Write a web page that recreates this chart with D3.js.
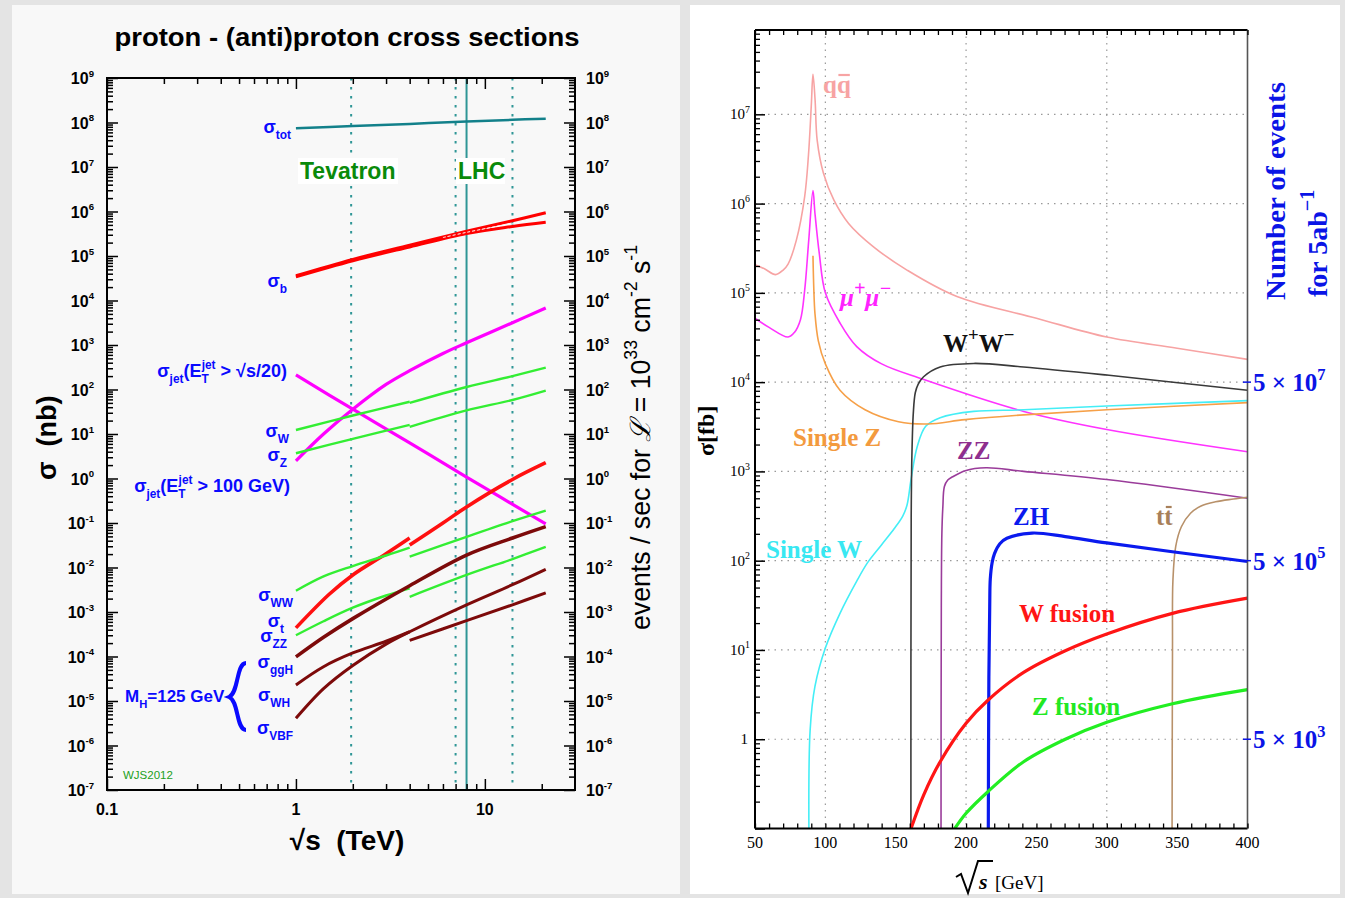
<!DOCTYPE html>
<html>
<head>
<meta charset="utf-8">
<script src="https://cdn.jsdelivr.net/npm/d3@7"></script>
<style>
body { margin: 0; background: #e4e4e4; }
svg { display: block; }
</style>
</head>
<body>
<svg id="chart" width="1345" height="898"></svg>
<script>
// ---------- left panel: sqrt(s) in TeV, sigma in nb ----------
var leftMajorX = [0.1, 1, 10];
var leftExps = d3.range(-7, 10);
var tevatron = 1.96, lhcRuns = [7, 14], lhcNow = 8;

var sigTot    = [[1,7.4e7],[2,8.3e7],[4,9.3e7],[8,1.05e8],[14,1.15e8],[21,1.22e8]];
var sigBHi    = [[1,3.6e4],[2,8.4e4],[4,1.75e5],[8,3.6e5],[14,6.2e5],[21,9.4e5]];
var sigBLo    = [[1,3.4e4],[2,7.8e4],[4,1.6e5],[8,3.2e5],[14,4.6e5],[21,5.7e5]];
var sigBMid   = [[6,2.6e5],[8,3.4e5],[14,5.4e5],[21,7.3e5]];
var jet100    = [[1,2.5],[1.4,10],[2,36],[3,130],[4,265],[6,645],[8,1120],[14,3160],[21,6800]];
var jetScaled = [[1,213],[2,36],[4,6.3],[8,1.08],[21,0.095]];
var wPpbar    = [[1,12.3],[2,26],[4,53]];
var wPp       = [[4,50],[8,114],[14,200],[21,309]];
var zPpbar    = [[1,3.7],[2,7.8],[4,16]];
var zPp       = [[4,14.5],[8,34],[14,58],[21,94]];
var topPpbar  = [[1,4.4e-4],[1.5,2.5e-3],[2,6.8e-3],[3,0.0204],[4,0.046]];
var topPp     = [[4,0.032],[6,0.1],[8,0.23],[14,0.95],[21,2.26]];
var wwPpbar   = [[1,3.0e-3],[1.4,6.3e-3],[2,0.0108],[3,0.0186],[4,0.028]];
var wwPp      = [[4,0.0175],[8,0.049],[14,0.11],[21,0.19]];
var zzPpbar   = [[1,3.0e-4],[1.4,6.2e-4],[2,1.25e-3],[3,2.35e-3],[4,3.4e-3]];
var zzPp      = [[4,2.2e-3],[8,6.8e-3],[14,0.0155],[21,0.029]];
var ggH       = [[1,9.8e-5],[1.4,2.7e-4],[2,7.1e-4],[4,3.9e-3],[8,0.019],[14,0.046],[21,0.083]];
var whPpbar   = [[1,2.3e-5],[1.4,5.9e-5],[2,1.2e-4],[3,2.2e-4],[4,3.6e-4]];
var whPp      = [[4,2.3e-4],[8,6.4e-4],[14,1.45e-3],[21,2.7e-3]];
var vbf       = [[1,4.1e-6],[1.4,1.9e-5],[2,6.3e-5],[3,1.9e-4],[4,3.6e-4],[8,1.45e-3],[14,4.1e-3],[21,9.1e-3]];

// ---------- right panel: sqrt(s) in GeV, sigma in fb ----------
var rightMajorX = [50, 100, 150, 200, 250, 300, 350, 400];
var rightGridX = [100, 200, 300];
var rightExps = d3.range(0, 8);
var eventLabels = [[1e4, "7"], [1e2, "5"], [1, "3"]];   // 5 x 10^n events for 5 ab^-1

var qqbar   = [[50,2.06e5],[57,1.85e5],[64.6,1.6e5],[70,1.8e5],[73.5,2.1e5],[79.4,3.9e5],[85.3,1.2e6],[88,3.5e6],
               [90,1.25e7],[91.2,2.8e7],[92.7,1.45e7],[94.2,5.1e6],[98.6,2.2e6],[106,1.1e6],[116.5,6.0e5],[134,3.3e5],
               [158,1.8e5],[193.5,9.1e4],[250,5.2e4],[300,3.2e4],[350,2.4e4],[400,1.8e4]];
var mumu    = [[50,5.2e4],[60,4.1e4],[73.5,3.2e4],[78,3.6e4],[82.3,5.0e4],[85.3,1.07e5],[88.2,3.9e5],[91.2,1.4e6],
               [92.6,7.8e5],[95.7,2.75e5],[100,1.0e5],[110.4,4.6e4],[122.3,2.5e4],[140,1.6e4],
               [170,1.07e4],[241,4.7e3],[300,2.95e3],[400,1.66e3]];
var singleZ = [[91.2,2.6e5],[91.8,1.1e5],[92.6,5.9e4],[95,2.9e4],[100,1.6e4],[110.4,8.1e3],[128.2,4.9e3],
               [152,3.6e3],[172.7,3.4e3],[199.3,3.8e3],[241,4.3e3],[300,4.9e3],[400,5.9e3]];
var singleW = [[88.3,0.1],[89.2,1.28],[92.6,3.9],[100,10.5],[110.4,25.7],[122.3,59],[130,95],[140,151],
               [149,229],[155,316],[158,417],[160.9,813],[165.3,1.9e3],[171.3,3.2e3],[181.6,4.0e3],[205.4,4.7e3],
               [241,4.9e3],[300,5.4e3],[400,6.2e3]];
var wwPair  = [[160.8,0.1],[161,300],[161.5,1500],[162.5,4500],[163.9,7600],[166,9500],[169.8,1.15e4],
               [181.6,1.48e4],[205.4,1.62e4],[240.9,1.48e4],[300,1.2e4],[400,8.1e3]];
var zzPair  = [[182.2,0.1],[182.4,30],[182.8,200],[183.5,400],[184.6,676],[187,800],[190.5,870],[199.4,1020],
               [214.2,1100],[240.9,1000],[300,810],[400,500]];
var zhPair  = [[215.8,0.1],[216.2,5],[216.8,30],[217.2,62],[218.5,95],[220.2,120],[224,155],[229,178],
               [247,204],[270.5,186],[300,158],[400,98]];
var ttPair  = [[346.4,0.1],[346.7,10],[347,60],[349,145],[353,240],[359.5,340],[367,410],[377.3,457],
               [390,490],[400,513]];
var wFusion = [[160.9,0.1],[170,0.24],[181.6,0.56],[200,1.51],[215.7,2.75],[240.9,5.6],[270.5,9.8],
               [300,15.1],[346.7,25.7],[400,38]];
var zFusion = [[192,0.1],[200,0.148],[215.7,0.26],[240.9,0.56],[270.5,1.0],[300,1.55],[346.7,2.5],[400,3.6]];

var svg = d3.select("#chart");
var SANS = "'Liberation Sans', Arial, Helvetica, sans-serif";
var SERIF = "'Liberation Serif', 'Times New Roman', Times, serif";

svg.append("rect").attr("x", 12).attr("y", 5).attr("width", 668).attr("height", 889).attr("fill", "#f8f8f8");
svg.append("rect").attr("x", 690).attr("y", 5).attr("width", 650).attr("height", 889).attr("fill", "#ffffff");

function minorLog(lo, hi) {
  var out = [];
  for (var e = Math.floor(Math.log10(lo)); e <= Math.ceil(Math.log10(hi)); e++)
    for (var k = 2; k <= 9; k++) {
      var v = k * Math.pow(10, e);
      if (v > lo * 1.0001 && v < hi * 0.9999) out.push(v);
    }
  return out;
}

// inward pointing ticks, no domain line
function tickAxis(g, axis, vals, len, sw) {
  g.call(axis.tickValues(vals).tickSizeInner(-len).tickSizeOuter(0).tickFormat(""));
  g.select(".domain").remove();
  g.selectAll(".tick line").attr("stroke", "#000").attr("stroke-width", sw);
}

// text made of plain / sub / sup pieces
function rich(g, x, y, parts, o) {
  var t = g.append("text").attr("x", x).attr("y", y)
    .attr("font-family", o.font).attr("font-size", o.size)
    .attr("font-weight", o.weight || "bold").attr("fill", o.color)
    .attr("text-anchor", o.anchor || "start");
  if (o.style) t.attr("font-style", o.style);
  if (o.transform) t.attr("transform", o.transform);
  var cur = 0;
  parts.forEach(function(p) {
    var shift = p[1] === "sub" ? o.size * 0.35 : p[1] === "sup" ? -o.size * 0.45 : 0;
    var s = t.append("tspan").attr("dy", shift - cur).text(p[0]);
    if (p[1] === "sub" || p[1] === "sup") s.attr("font-size", o.size * (o.small || 0.66));
    if (p[2]) s.attr("dx", p[2]);
    if (p[3]) s.attr("font-style", p[3]);
    cur = shift;
  });
  return t;
}

// =================== LEFT PANEL ===================
var xL = d3.scaleLog().domain([0.1, 30]).range([107, 575]);
var yL = d3.scaleLog().domain([1e-7, 1e9]).range([790, 78]);
var gL = svg.append("g");

gL.append("text").attr("x", 347).attr("y", 46).attr("text-anchor", "middle")
  .attr("font-family", SANS).attr("font-weight", "bold").attr("font-size", 26)
  .attr("textLength", 465).attr("lengthAdjust", "spacingAndGlyphs")
  .text("proton - (anti)proton cross sections");

// collider lines
var teal = "#2f9696";
[tevatron].concat(lhcRuns).forEach(function(v) {
  gL.append("line").attr("x1", xL(v)).attr("x2", xL(v)).attr("y1", yL(1e9)).attr("y2", yL(1e-7))
    .attr("stroke", teal).attr("stroke-width", 2).attr("stroke-dasharray", "2.5,6.5");
});
gL.append("line").attr("x1", xL(lhcNow)).attr("x2", xL(lhcNow)).attr("y1", yL(1e9)).attr("y2", yL(1e-7))
  .attr("stroke", teal).attr("stroke-width", 2);

// Tevatron / LHC labels with white boxes
[["Tevatron", 300, 100], ["LHC", 458, 49]].forEach(function(d) {
  gL.append("rect").attr("x", d[1] - 2).attr("y", 158).attr("width", d[2]).attr("height", 26).attr("fill", "#fff");
  gL.append("text").attr("x", d[1]).attr("y", 179).attr("font-family", SANS).attr("font-weight", "bold")
    .attr("font-size", 23).attr("fill", "#0a8a0a").text(d[0]);
});

// curves
var lineL = d3.line().x(function(d) { return xL(d[0]); }).y(function(d) { return yL(d[1]); })
  .curve(d3.curveCatmullRom.alpha(0.5));
var darkRed = "#7d0a0a", green = "#33ee33";
var leftSeries = [
  [sigTot, "#12808a", 2.5], [sigBHi, "#ff0000", 3], [sigBLo, "#ff0000", 3],
  [jet100, "#ff00ff", 3.2], [jetScaled, "#ff00ff", 3.2],
  [wPpbar, green, 2.4], [wPp, green, 2.4], [zPpbar, green, 2.4], [zPp, green, 2.4],
  [topPpbar, "#ff1010", 3.6], [topPp, "#ff1010", 3.6],
  [wwPpbar, green, 2.4], [wwPp, green, 2.4], [zzPpbar, green, 2.4], [zzPp, green, 2.4],
  [ggH, darkRed, 3.6], [whPpbar, darkRed, 3], [whPp, darkRed, 3], [vbf, darkRed, 3]
];
leftSeries.forEach(function(s) {
  gL.append("path").attr("d", lineL(s[0])).attr("fill", "none")
    .attr("stroke", s[1]).attr("stroke-width", s[2]).attr("stroke-linecap", "butt");
});
gL.append("path").attr("d", lineL(sigBMid)).attr("fill", "none").attr("stroke", "#fff")
  .attr("stroke-width", 1).attr("stroke-dasharray", "3,2");

// frame and ticks
gL.append("rect").attr("x", 107).attr("y", 78).attr("width", 468).attr("height", 712)
  .attr("fill", "none").attr("stroke", "#000").attr("stroke-width", 2);
var yMajL = leftExps.map(function(e) { return Math.pow(10, e); });
var yMinL = minorLog(1e-7, 1e9), xMinL = minorLog(0.1, 30);
[[d3.axisLeft, 107], [d3.axisRight, 575]].forEach(function(a) {
  tickAxis(gL.append("g").attr("transform", "translate(" + a[1] + ",0)"), a[0](yL), yMajL, 11, 1.5);
  tickAxis(gL.append("g").attr("transform", "translate(" + a[1] + ",0)"), a[0](yL), yMinL, 6, 1.5);
});
[[d3.axisBottom, 790], [d3.axisTop, 78]].forEach(function(a) {
  tickAxis(gL.append("g").attr("transform", "translate(0," + a[1] + ")"), a[0](xL), leftMajorX, 11, 1.5);
  tickAxis(gL.append("g").attr("transform", "translate(0," + a[1] + ")"), a[0](xL), xMinL, 6, 1.5);
});

// tick labels
leftExps.forEach(function(e) {
  var y = yL(Math.pow(10, e)) + 6;
  [[94, "end"], [586, "start"]].forEach(function(p) {
    rich(gL, p[0], y, [["10"], [String(e), "sup"]],
      { font: SANS, size: 16, color: "#000", anchor: p[1], small: 0.6 });
  });
});
leftMajorX.forEach(function(v) {
  gL.append("text").attr("x", xL(v)).attr("y", 815).attr("text-anchor", "middle")
    .attr("font-family", SANS).attr("font-weight", "bold").attr("font-size", 16).text(String(v));
});

// axis titles
gL.append("text").attr("x", 347).attr("y", 850).attr("text-anchor", "middle")
  .attr("font-family", SANS).attr("font-weight", "bold").attr("font-size", 28)
  .text("\u221As\u00a0\u00a0(TeV)");
gL.append("text").attr("transform", "translate(56,480) rotate(-90)")
  .attr("font-family", SANS).attr("font-weight", "bold").attr("font-size", 27)
  .text("\u03c3\u00a0\u00a0(nb)");
rich(gL, 0, 0, [["events / sec for "], ["\u2112", null, 0, "italic"], [" = 10"], ["33", "sup"], [" cm"], ["-2", "sup"], [" s"], ["-1", "sup"]],
  { font: SANS, size: 28, color: "#000", weight: "normal", transform: "translate(650,630) rotate(-90)" })
  .attr("textLength", 385).attr("lengthAdjust", "spacingAndGlyphs");

// curve labels
var blue = "#0a0aff";
var lab = { font: SANS, size: 18, color: blue, anchor: "end" };
rich(gL, 291, 133, [["\u03c3"], ["tot", "sub"]], lab);
rich(gL, 287, 287, [["\u03c3"], ["b", "sub"]], lab);
rich(gL, 287, 377, [["\u03c3"], ["jet", "sub"], ["(E"], ["T", "sub"], ["jet", "sup", -7], [" > \u221As/20)"]], lab);
rich(gL, 289, 437, [["\u03c3"], ["W", "sub"]], lab);
rich(gL, 287, 461, [["\u03c3"], ["Z", "sub"]], lab);
rich(gL, 290, 492, [["\u03c3"], ["jet", "sub"], ["(E"], ["T", "sub"], ["jet", "sup", -7], [" > 100 GeV)"]], lab);
rich(gL, 293, 601, [["\u03c3"], ["WW", "sub"]], lab);
rich(gL, 284, 627, [["\u03c3"], ["t", "sub"]], lab);
rich(gL, 287, 642, [["\u03c3"], ["ZZ", "sub"]], lab);
rich(gL, 293, 668, [["\u03c3"], ["ggH", "sub"]], lab);
rich(gL, 290, 701, [["\u03c3"], ["WH", "sub"]], lab);
rich(gL, 293, 734, [["\u03c3"], ["VBF", "sub"]], lab);
rich(gL, 125, 702, [["M"], ["H", "sub"], ["=125 GeV"]], { font: SANS, size: 17, color: blue });
gL.append("path").attr("d", "M246,663 C236,663 239,693 229,697 C239,701 236,730 246,730")
  .attr("fill", "none").attr("stroke", blue).attr("stroke-width", 4);
gL.append("text").attr("x", 123).attr("y", 779).attr("font-family", SANS).attr("font-size", 11.5)
  .attr("fill", "#22a022").text("WJS2012");

// =================== RIGHT PANEL ===================
var xR = d3.scaleLinear().domain([50, 400]).range([755, 1247.5]);
var yR = d3.scaleLog().domain([0.1, 8.8e7]).range([828.5, 30]);
var gR = svg.append("g");

// grid
rightExps.forEach(function(e) {
  gR.append("line").attr("x1", xR(50)).attr("x2", xR(400)).attr("y1", yR(Math.pow(10, e))).attr("y2", yR(Math.pow(10, e)))
    .attr("stroke", "#999").attr("stroke-width", 1.2).attr("stroke-dasharray", "1.5,5");
});
rightGridX.forEach(function(v) {
  gR.append("line").attr("x1", xR(v)).attr("x2", xR(v)).attr("y1", yR.range()[1]).attr("y2", yR.range()[0])
    .attr("stroke", "#999").attr("stroke-width", 1.2).attr("stroke-dasharray", "1.5,5");
});

svg.append("clipPath").attr("id", "clipR").append("rect")
  .attr("x", 755).attr("y", 30).attr("width", 492.5).attr("height", 798.5);
var lineR = d3.line().x(function(d) { return xR(d[0]); }).y(function(d) { return yR(d[1]); })
  .curve(d3.curveCatmullRom.alpha(0.5));
var rightSeries = [
  [qqbar, "#f7a3a3", 1.6], [mumu, "#ff33ff", 1.6], [singleW, "#44eef6", 1.6], [singleZ, "#f6a048", 1.6],
  [wwPair, "#3a3a3a", 1.6], [zzPair, "#9a3c9a", 1.6], [ttPair, "#b8916a", 1.6],
  [zhPair, "#0a1aee", 3.2], [wFusion, "#ff1515", 3.2], [zFusion, "#22ee22", 3.2]
];
var gCurves = gR.append("g").attr("clip-path", "url(#clipR)");
rightSeries.forEach(function(s) {
  gCurves.append("path").attr("d", lineR(s[0])).attr("fill", "none")
    .attr("stroke", s[1]).attr("stroke-width", s[2]);
});

// frame and ticks
gR.append("line").attr("x1", 755).attr("x2", 755).attr("y1", 30).attr("y2", 828.5).attr("stroke", "#000").attr("stroke-width", 2);
gR.append("line").attr("x1", 755).attr("x2", 1247.5).attr("y1", 828.5).attr("y2", 828.5).attr("stroke", "#000").attr("stroke-width", 2);
gR.append("line").attr("x1", 755).attr("x2", 1247.5).attr("y1", 30).attr("y2", 30).attr("stroke", "#000").attr("stroke-width", 2);
gR.append("line").attr("x1", 1247.5).attr("x2", 1247.5).attr("y1", 30).attr("y2", 828.5).attr("stroke", "#555").attr("stroke-width", 1.6);
var xTicksR = d3.range(50, 401, 10);
tickAxis(gR.append("g").attr("transform", "translate(0,828.5)"), d3.axisBottom(xR), xTicksR, 5, 1.3);
tickAxis(gR.append("g").attr("transform", "translate(0,30)"), d3.axisTop(xR), xTicksR, 5, 1.3);
var yMajR = [0.1].concat(rightExps.map(function(e) { return Math.pow(10, e); }));
tickAxis(gR.append("g").attr("transform", "translate(755,0)"), d3.axisLeft(yR), yMajR, 10, 1.5);
tickAxis(gR.append("g").attr("transform", "translate(755,0)"), d3.axisLeft(yR), minorLog(0.1, 8.8e7), 5, 1.3);

rightMajorX.forEach(function(v) {
  gR.append("text").attr("x", xR(v)).attr("y", 848).attr("text-anchor", "middle")
    .attr("font-family", SERIF).attr("font-size", 16).text(String(v));
});
rightExps.forEach(function(e) {
  var y = yR(Math.pow(10, e)) + 5;
  if (e === 0) gR.append("text").attr("x", 748).attr("y", y).attr("text-anchor", "end")
    .attr("font-family", SERIF).attr("font-size", 15).text("1");
  else rich(gR, 750, y, [["10"], [String(e), "sup"]], { font: SERIF, size: 15, color: "#000", weight: "normal", anchor: "end" });
});

// event-count axis on the right
var evBlue = "#0a14e6";
eventLabels.forEach(function(d) {
  var y = yR(d[0]);
  gR.append("line").attr("x1", 1243).attr("x2", 1251).attr("y1", y).attr("y2", y).attr("stroke", evBlue).attr("stroke-width", 1.5);
  rich(gR, 1253, y + 9, [["5 \u00d7 10"], [d[1], "sup"]], { font: SERIF, size: 25, color: evBlue });
});
rich(gR, 0, 0, [["Number of events"]], { font: SERIF, size: 28, color: evBlue, transform: "translate(1285,300) rotate(-90)" })
  .attr("textLength", 218).attr("lengthAdjust", "spacingAndGlyphs");
rich(gR, 0, 0, [["for 5ab"], ["\u22121", "sup"]], { font: SERIF, size: 28, color: evBlue, small: 0.72,
  transform: "translate(1327,297) rotate(-90)" });

// axis titles
rich(gR, 0, 0, [["\u03c3[fb]"]], { font: SERIF, size: 24, color: "#000", transform: "translate(714,456) rotate(-90)" });
gR.append("path").attr("d", "M956,877 L961,874 L968,893 L978,861 L993,861")
  .attr("fill", "none").attr("stroke", "#000").attr("stroke-width", 2);
gR.append("text").attr("x", 979).attr("y", 889).attr("font-family", SERIF).attr("font-style", "italic")
  .attr("font-weight", "bold").attr("font-size", 22).text("s");
gR.append("text").attr("x", 995).attr("y", 889).attr("font-family", SERIF).attr("font-size", 19).text("[GeV]");

// curve labels
function rlab(x, y, parts, color, style, small) {
  return rich(gR, x, y, parts, { font: SERIF, size: 25, color: color, style: style, small: small });
}
// bar over one character of a label
function overbar(t, idx, color) {
  var n = t.node(), a = n.getStartPositionOfChar(idx), b = n.getEndPositionOfChar(idx);
  gR.append("line").attr("x1", a.x + 1.5).attr("x2", b.x - 1).attr("y1", a.y - 18).attr("y2", a.y - 18)
    .attr("stroke", color).attr("stroke-width", 2.2);
}
overbar(rlab(823, 93, [["qq"]], "#f7a3a3"), 1, "#f7a3a3");
rlab(840, 306, [["\u03bc"], ["+", "sup"], ["\u03bc"], ["\u2212", "sup"]], "#ff22ff", "italic", 0.8);
rlab(943, 352, [["W"], ["+", "sup"], ["W"], ["\u2212", "sup"]], "#111", null, 0.75);
rlab(793, 446, [["Single Z"]], "#f39a3e");
rlab(957, 459, [["ZZ"]], "#8e2e8e");
rlab(1013, 525, [["ZH"]], "#0a1aee");
overbar(rlab(1156, 525, [["tt"]], "#a8805a"), 1, "#a8805a");
rlab(766, 558, [["Single W"]], "#38e8f2");
rlab(1019, 622, [["W fusion"]], "#ff1515");
rlab(1032, 715, [["Z fusion"]], "#22e822");
</script>
</body>
</html>
